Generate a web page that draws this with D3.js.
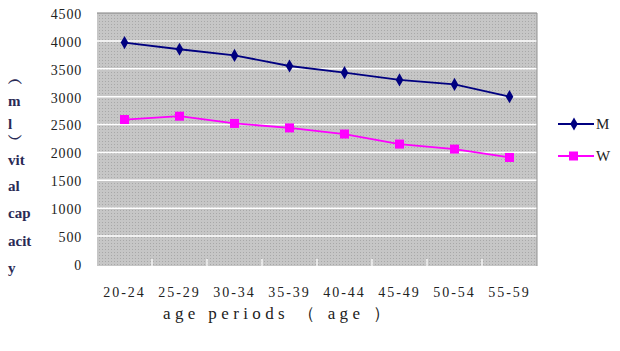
<!DOCTYPE html>
<html><head><meta charset="utf-8">
<script src="https://cdn.jsdelivr.net/npm/d3@7"></script>
<style>body{margin:0;background:#fff}svg{display:block}</style>
</head><body><svg id="c" width="620" height="351"></svg>
<script>
const categories = ["20-24","25-29","30-34","35-39","40-44","45-49","50-54","55-59"];
const seriesM = [3970,3850,3740,3550,3430,3300,3220,3000];
const seriesW = [2590,2650,2520,2440,2330,2150,2060,1910];
const yTicks = [0,500,1000,1500,2000,2500,3000,3500,4000,4500];
const yLabelLines = ["︵","m","l","︶","vit","al","cap","acit","y"];
const xTitle = "age periods （ age ）";
const seriesNames = ["M","W"];

const svg = d3.select("#c");
const L=97, R=537, T=13, B=264;
const x = d3.scaleBand().domain(categories).range([L,R]);
const y = d3.scaleLinear().domain([0,4500]).range([B,T]);

const defs = svg.append("defs");
const pat = defs.append("pattern").attr("id","dots").attr("width",3).attr("height",3).attr("patternUnits","userSpaceOnUse");
pat.append("rect").attr("width",3).attr("height",3).attr("fill","#c6c6c6");
pat.append("rect").attr("width",1).attr("height",1).attr("fill","#a8a8a8");

svg.append("rect").attr("x",L).attr("y",T).attr("width",R-L).attr("height",B-T+2).attr("fill","url(#dots)");
svg.append("g").selectAll("line").data(yTicks.filter(d=>d>0&&d<4500)).join("line")
  .attr("x1",L).attr("x2",R).attr("y1",d=>y(d)).attr("y2",d=>y(d))
  .attr("stroke","#ffffff").attr("stroke-width",1.5);
svg.append("line").attr("x1",L).attr("x2",R).attr("y1",T).attr("y2",T).attr("stroke","#808080").attr("stroke-width",1.2);
svg.append("line").attr("x1",R).attr("x2",R).attr("y1",T).attr("y2",B+2).attr("stroke","#909090").attr("stroke-width",1);
svg.append("g").selectAll("line").data(categories.slice(1)).join("line")
  .attr("x1",d=>x(d)).attr("x2",d=>x(d)).attr("y1",B-5).attr("y2",B+2)
  .attr("stroke","#fff").attr("stroke-width",1.2);

svg.append("g").selectAll("text").data(yTicks).join("text")
  .attr("x",82).attr("y",d=>y(d)+1).attr("dy","0.35em").attr("text-anchor","end")
  .attr("font-family","Liberation Serif").attr("font-size",14).attr("letter-spacing",0.8)
  .attr("fill","#222").text(d=>d);

svg.append("g").selectAll("text").data(categories).join("text")
  .attr("x",d=>x(d)+x.bandwidth()/2).attr("y",297).attr("text-anchor","middle")
  .attr("font-family","Liberation Serif").attr("font-size",14).attr("letter-spacing",2)
  .attr("fill","#222").text(d=>d);

svg.append("text").attr("x",163).attr("y",319).attr("font-family","Liberation Serif")
  .attr("font-size",17).attr("letter-spacing",3).attr("textLength",230).attr("lengthAdjust","spacing")
  .attr("fill","#222").text(xTitle);

const ly = [79,101,124,139,160,186,213,241,268];
svg.append("g").selectAll("text").data(yLabelLines).join("text")
  .attr("x",8).attr("y",(d,i)=>ly[i]).attr("dy","0.35em")
  .attr("font-family","Liberation Serif").attr("font-size",15).attr("font-weight","bold")
  .attr("fill","#2a2a55").text(d=>d);

const line = d3.line().x((d,i)=>x(categories[i])+x.bandwidth()/2).y(d=>y(d));
const navy="#000080", mag="#ff00ff";
svg.append("path").datum(seriesM).attr("d",line).attr("fill","none").attr("stroke",navy).attr("stroke-width",1.8);
svg.append("path").datum(seriesW).attr("d",line).attr("fill","none").attr("stroke",mag).attr("stroke-width",1.8);
const diamond = d3.symbol().type(d3.symbolDiamond).size(50);
svg.append("g").selectAll("path").data(seriesM).join("path")
  .attr("transform",(d,i)=>`translate(${x(categories[i])+x.bandwidth()/2},${y(d)})`)
  .attr("d",diamond).attr("fill",navy);
svg.append("g").selectAll("rect").data(seriesW).join("rect")
  .attr("x",(d,i)=>x(categories[i])+x.bandwidth()/2-4.5).attr("y",d=>y(d)-4.5)
  .attr("width",9).attr("height",9).attr("fill",mag);

const lg = svg.append("g");
[[124,navy,"M"],[156,mag,"W"]].forEach(([ly2,c,n],i)=>{
  lg.append("line").attr("x1",558).attr("x2",594).attr("y1",ly2).attr("y2",ly2).attr("stroke",c).attr("stroke-width",1.8);
  if(i===0) lg.append("path").attr("transform",`translate(574,${ly2})`).attr("d",diamond).attr("fill",c);
  else lg.append("rect").attr("x",569).attr("y",ly2-4.5).attr("width",9).attr("height",9).attr("fill",c);
  lg.append("text").attr("x",596).attr("y",ly2).attr("dy","0.35em").attr("font-family","Liberation Serif")
    .attr("font-size",15).attr("fill","#222").text(seriesNames[i]);
});
</script></body></html>
